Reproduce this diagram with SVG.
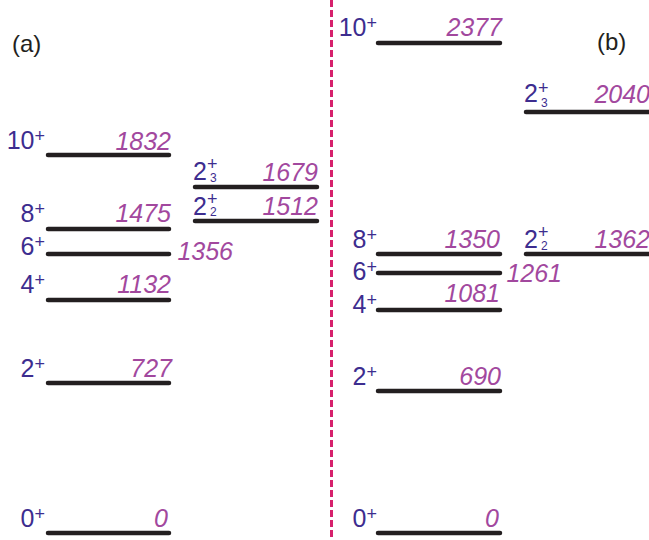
<svg xmlns="http://www.w3.org/2000/svg" width="649" height="540" viewBox="0 0 649 540">
<style>
.lvl{stroke:#231f20;stroke-width:4.5;stroke-linecap:round;fill:none}
.lbl{font-family:"Liberation Sans",Arial,sans-serif;font-size:25px;fill:#3d2d8f}
.sup{font-size:18px}
.sub{font-size:12px}
.en{font-family:"Liberation Sans",Arial,sans-serif;font-size:25px;font-style:italic;fill:#a2489e;text-anchor:end}
.tag{font-family:"Liberation Sans",Arial,sans-serif;font-size:24px;fill:#231f20}
</style>
<rect width="649" height="540" fill="#ffffff"/>
<g id="connectors">
<line x1="331.5" y1="0" x2="331.5" y2="540" stroke="#d6206c" stroke-width="3" stroke-dasharray="7 3"/>
</g>
<g id="panel-a-label"><text class="tag" x="12" y="52">(a)</text></g>
<g id="panel-b-label"><text class="tag" x="597" y="50">(b)</text></g>

<g id="a-10">
<line class="lvl" x1="48" y1="155" x2="169" y2="155"/>
<text class="lbl" x="45" y="149" text-anchor="end">10<tspan class="sup" dy="-7">+</tspan></text>
<text class="en" x="171" y="150">1832</text>
</g>
<g id="a-8">
<line class="lvl" x1="48" y1="229" x2="169" y2="229"/>
<text class="lbl" x="45" y="222" text-anchor="end">8<tspan class="sup" dy="-7">+</tspan></text>
<text class="en" x="171" y="222">1475</text>
</g>
<g id="a-6">
<line class="lvl" x1="48" y1="254" x2="169" y2="254"/>
<text class="lbl" x="45" y="255" text-anchor="end">6<tspan class="sup" dy="-7">+</tspan></text>
<text class="en" x="233" y="260">1356</text>
</g>
<g id="a-4">
<line class="lvl" x1="48" y1="300" x2="169" y2="300"/>
<text class="lbl" x="45" y="293" text-anchor="end">4<tspan class="sup" dy="-7">+</tspan></text>
<text class="en" x="171" y="293">1132</text>
</g>
<g id="a-2">
<line class="lvl" x1="48" y1="383" x2="169" y2="383"/>
<text class="lbl" x="45" y="377" text-anchor="end">2<tspan class="sup" dy="-7">+</tspan></text>
<text class="en" x="172" y="377">727</text>
</g>
<g id="a-0">
<line class="lvl" x1="48" y1="533" x2="169" y2="533"/>
<text class="lbl" x="45" y="527" text-anchor="end">0<tspan class="sup" dy="-7">+</tspan></text>
<text class="en" x="168" y="527">0</text>
</g>
<g id="a-2-3">
<line class="lvl" x1="195" y1="187" x2="317" y2="187"/>
<text class="lbl" x="193" y="180">2<tspan class="sup" dy="-10">+</tspan><tspan class="sub" x="210" dy="12">3</tspan></text>
<text class="en" x="318" y="181">1679</text>
</g>
<g id="a-2-2">
<line class="lvl" x1="195" y1="221" x2="317" y2="221"/>
<text class="lbl" x="193" y="215">2<tspan class="sup" dy="-10">+</tspan><tspan class="sub" x="210" dy="11">2</tspan></text>
<text class="en" x="318" y="215">1512</text>
</g>

<g id="b-10">
<line class="lvl" x1="378" y1="43" x2="500" y2="43"/>
<text class="lbl" x="377" y="36" text-anchor="end">10<tspan class="sup" dy="-7">+</tspan></text>
<text class="en" x="502" y="36">2377</text>
</g>
<g id="b-8">
<line class="lvl" x1="378" y1="254" x2="500" y2="254"/>
<text class="lbl" x="377" y="248" text-anchor="end">8<tspan class="sup" dy="-7">+</tspan></text>
<text class="en" x="500" y="248">1350</text>
</g>
<g id="b-6">
<line class="lvl" x1="378" y1="273" x2="500" y2="273"/>
<text class="lbl" x="377" y="280" text-anchor="end">6<tspan class="sup" dy="-7">+</tspan></text>
<text class="en" x="562" y="282">1261</text>
</g>
<g id="b-4">
<line class="lvl" x1="378" y1="310" x2="500" y2="310"/>
<text class="lbl" x="377" y="313" text-anchor="end">4<tspan class="sup" dy="-7">+</tspan></text>
<text class="en" x="500" y="302">1081</text>
</g>
<g id="b-2">
<line class="lvl" x1="378" y1="391" x2="500" y2="391"/>
<text class="lbl" x="377" y="385" text-anchor="end">2<tspan class="sup" dy="-7">+</tspan></text>
<text class="en" x="501" y="385">690</text>
</g>
<g id="b-0">
<line class="lvl" x1="378" y1="533" x2="500" y2="533"/>
<text class="lbl" x="377" y="527" text-anchor="end">0<tspan class="sup" dy="-7">+</tspan></text>
<text class="en" x="499" y="527">0</text>
</g>
<g id="b-2-3">
<line class="lvl" x1="526" y1="112" x2="652" y2="112"/>
<text class="lbl" x="524" y="102">2<tspan class="sup" dy="-8">+</tspan><tspan class="sub" x="541" dy="13">3</tspan></text>
<text class="en" x="650" y="103">2040</text>
</g>
<g id="b-2-2">
<line class="lvl" x1="526" y1="254" x2="652" y2="254"/>
<text class="lbl" x="524" y="248">2<tspan class="sup" dy="-10">+</tspan><tspan class="sub" x="541" dy="11.5">2</tspan></text>
<text class="en" x="650" y="248">1362</text>
</g>
</svg>
